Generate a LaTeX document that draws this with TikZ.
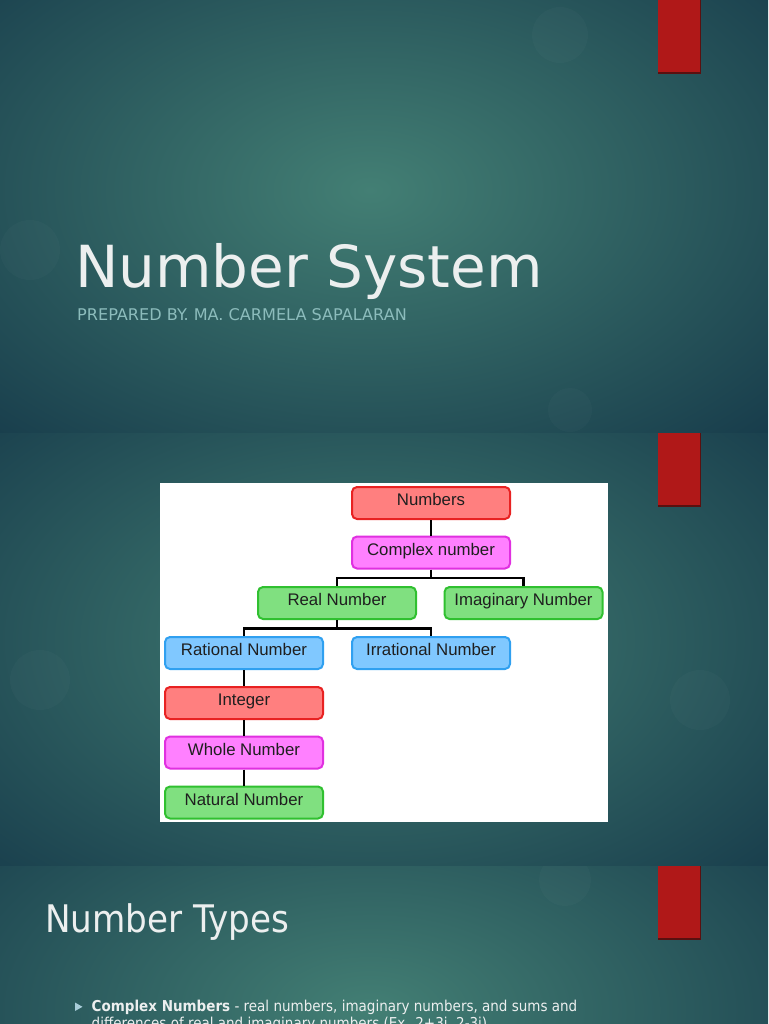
\documentclass[tikz,border=0pt]{standalone}
\usepackage{fontspec}
\setmainfont{Liberation Sans}
\newfontfamily\dejavu{DejaVu Sans}
\newfontfamily\dejavucond{DejaVu Sans Condensed}
\definecolor{bgdark}{HTML}{163A4A}
\definecolor{bglight}{HTML}{437F74}
\definecolor{barred}{HTML}{B01818}
\definecolor{barshadow}{HTML}{5A1010}
\definecolor{titlewhite}{HTML}{ECEFEF}
\definecolor{subteal}{HTML}{8CBCBC}
\definecolor{bullettri}{HTML}{A8CCD8}
\definecolor{redfill}{HTML}{FF7F7F}
\definecolor{redline}{HTML}{E82222}
\definecolor{magfill}{HTML}{FF80FF}
\definecolor{magline}{HTML}{E030E0}
\definecolor{grnfill}{HTML}{80E080}
\definecolor{grnline}{HTML}{30C030}
\definecolor{blufill}{HTML}{80C8FF}
\definecolor{bluline}{HTML}{30A0F0}
\begin{document}
\begin{tikzpicture}[x=1pt,y=-1pt,
  nbox/.style={rounded corners=5pt, line width=2pt, minimum width=158pt,
    minimum height=32pt, inner sep=0pt, text height=12pt, text depth=7pt,
    font=\fontsize{16.8}{18}\selectfont, text=black!88},
  redbox/.style={nbox, fill=redfill, draw=redline},
  magbox/.style={nbox, fill=magfill, draw=magline},
  grnbox/.style={nbox, fill=grnfill, draw=grnline},
  blubox/.style={nbox, fill=blufill, draw=bluline},
  link/.style={line width=2.5pt, black},
  bokeh/.style={fill=white, opacity=0.018},
  redbar/.style={fill=barred}]
\useasboundingbox (0,0) rectangle (768,1024);
\clip (0,0) rectangle (768,1024);
% ---------- slide 1 ----------
\begin{scope}
  \clip (0,0) rectangle (768,432);
  \fill[bgdark] (0,0) rectangle (768,432);
  \shade[inner color=bglight, outer color=bgdark] (370,190) ellipse [x radius=580, y radius=360];
  \fill[bokeh] (560,35) circle (28);
  \fill[bokeh] (570,410) circle (22);
  \fill[bokeh] (30,250) circle (30);
  \fill[barshadow] (658,0) rectangle (701,74);
  \fill[redbar] (658,0) rectangle (700,72);
\end{scope}
% ---------- slide 2 ----------
\begin{scope}
  \clip (0,433) rectangle (768,865);
  \fill[bgdark] (0,433) rectangle (768,865);
  \shade[inner color=bglight, outer color=bgdark] (370,640) ellipse [x radius=580, y radius=360];
  \fill[bokeh] (700,700) circle (30);
  \fill[bokeh] (40,680) circle (30);
  \fill[barshadow] (658,433) rectangle (701,507);
  \fill[redbar] (658,433) rectangle (700,505);
\end{scope}
% ---------- slide 3 ----------
\begin{scope}
  \clip (0,866) rectangle (768,1024);
  \fill[bgdark] (0,866) rectangle (768,1024);
  \shade[inner color=bglight, outer color=bgdark] (370,1010) ellipse [x radius=580, y radius=320];
  \fill[bokeh] (565,880) circle (26);
  \fill[barshadow] (658,866) rectangle (701,940);
  \fill[redbar] (658,866) rectangle (700,938);
\end{scope}
% ---------- slide 1 texts ----------
\node[anchor=base west, inner sep=0pt, text=titlewhite,
  font=\dejavu\fontsize{58}{60}\selectfont] (title) at (75,287) {Number System};
\node[anchor=base west, inner sep=0pt, text=subteal,
  font=\dejavu\fontsize{16.1}{18}\selectfont] (subtitle) at (77,320) {PREPARED BY. MA. CARMELA SAPALARAN};
% ---------- diagram ----------
\fill[white] (160,483) rectangle (608,822);
\node[redbox] (numbers) at (431,503) {Numbers};
\node[magbox] (complex) at (431,552.5) {Complex number};
\node[grnbox] (real) at (337,603) {Real Number};
\node[grnbox] (imag) at (523.5,603) {Imaginary Number};
\node[blubox] (rational) at (244,653) {Rational Number};
\node[blubox] (irrational) at (431,653) {Irrational Number};
\node[redbox] (integer) at (244,703) {Integer};
\node[magbox] (whole) at (244,752.5) {Whole Number};
\node[grnbox] (natural) at (244,802.5) {Natural Number};
\coordinate (b1) at (431,578);
\coordinate (b2) at (337,628.5);
\draw[link] (numbers) -- (complex);
\draw[link] (complex.south) -- (b1);
\draw[link] (real.north) |- (b1) -| (imag.north);
\draw[link] (real.south) -- (b2);
\draw[link] (rational.north) |- (b2) -| (irrational.north);
\draw[link] (rational) -- (integer);
\draw[link] (integer) -- (whole);
\draw[link] (whole) -- (natural);
% ---------- slide 3 texts ----------
\node[anchor=base west, inner sep=0pt, text=titlewhite,
  font=\dejavucond\fontsize{38}{40}\selectfont] (types) at (45,932) {Number Types};
\coordinate (t1) at (75,1002.5);
\coordinate (t2) at (75,1011);
\coordinate (t3) at (82.5,1006.8);
\fill[bullettri] (t1) -- (t2) -- (t3) -- cycle;
\node[anchor=base west, inner sep=0pt, text=titlewhite,
  font=\dejavucond\fontsize{15}{17}\selectfont] (line1) at (91.5,1011)
  {\textbf{Complex Numbers} - real numbers, imaginary numbers, and sums and};
\node[anchor=base west, inner sep=0pt, text=titlewhite,
  font=\dejavucond\fontsize{15}{17}\selectfont] (line2) at (91.5,1028)
  {differences of real and imaginary numbers (Ex. 2+3i, 2-3i)};
\end{tikzpicture}
\end{document}
